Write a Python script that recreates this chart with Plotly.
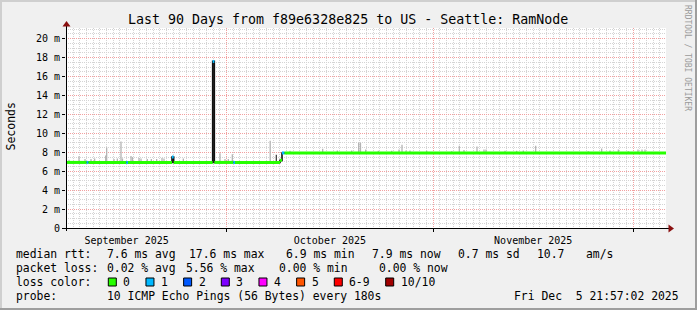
import numpy as np
import plotly.graph_objects as go
from datetime import datetime, timedelta

# ---------------- data ----------------
START = datetime(2025, 9, 6, 21, 57, 2)
SPAN_DAYS = 90

# median rtt (ms) as step breakpoints: day offset from START, value, loss bracket index
med_day = [0.0, 3.1, 3.35, 9.05, 9.3, 15.9, 16.15, 22.0, 22.25, 25.1, 25.35, 32.1, 32.4, 32.75, 90.0]
med_ms = [6.93, 6.93, 6.93, 6.93, 6.93, 7.5, 6.93, 17.6, 6.93, 6.93, 6.93, 7.15, 7.93, 7.93, 7.93]
med_loss = [0, 1, 0, 1, 0, 1, 0, 1, 0, 1, 0, 0, 1, 0, 0]

# smoke spikes (max rtt, ms)
smoke_day = [0.45, 1.95, 2.85, 3.75, 4.3, 5.95, 6.1, 7.2, 7.7, 8.25, 8.47, 9.75, 9.97, 10.95,
             11.25, 12.2, 12.8, 13.6, 14.4, 14.7, 17.6, 23.1, 23.85, 24.35, 24.95, 30.63,
             33.6, 38.5, 40.7, 42.85, 43.9, 44.17, 44.95, 46.85, 48.85, 49.95, 50.4, 51.0,
             51.6, 54.1, 57.85, 59.0, 59.7, 61.65, 62.7, 63.0, 65.85, 67.6, 68.6, 70.45,
             78.35, 80.35, 81.6, 82.85, 84.35, 85.8, 86.4, 86.85]
smoke_top = [7.2, 7.57, 7.3, 7.3, 7.35, 7.67, 8.5, 7.3, 7.35, 9.15, 7.35, 7.6, 7.5, 7.4,
             7.35, 7.3, 7.3, 7.3, 7.4, 7.35, 7.33, 7.9, 7.3, 7.3, 7.8, 9.22,
             8.17, 8.38, 8.2, 8.2, 9.0, 9.0, 8.3, 8.15, 8.15, 8.3, 8.8, 8.2,
             8.2, 8.15, 8.1, 8.7, 8.25, 8.6, 8.3, 8.3, 8.15, 8.15, 8.2, 8.7,
             8.1, 8.4, 8.2, 8.3, 8.1, 8.3, 8.3, 8.3]
dark_smoke_day = [31.55]
dark_smoke_top = [7.75]

loss_labels = ["0", "1", "2", "3", "4", "5", "6-9", "10/10"]
loss_colors = ["#26ff00", "#00b8ff", "#0059ff", "#7e00ff", "#ff00ff", "#ff5500", "#ff0000", "#a10000"]

y_tickvals = [0, 2, 4, 6, 8, 10, 12, 14, 16, 18, 20]
y_ticktext = ["0"] + [f"{v} m" for v in y_tickvals[1:]]

title_text = "Last 90 Days from f89e6328e825 to US - Seattle: RamNode"
rtt_fields = ["median rtt:", "7.6 ms avg", "17.6 ms max", "6.9 ms min", "7.9 ms now", "0.7 ms sd", "10.7", "am/s"]
loss_fields = ["packet loss:", "0.02 % avg", "5.56 % max", "0.00 % min", "0.00 % now"]
probe_fields = ["probe:", "10 ICMP Echo Pings (56 Bytes) every 180s"]
stamp_text = "Fri Dec\u00a0\u00a05 21:57:02 2025"

# ---------------- helpers ----------------
FONT = "DejaVu Sans Mono"
W, H = 697, 310
L, R, T, B = 66, 31, 28, 82
PW, PH = W - L - R, H - T - B


def t(d):
    return (START + timedelta(days=d)).strftime("%Y-%m-%d %H:%M:%S")


def px(x):
    return (x - L) / PW


def py(y):
    return (T + PH - y) / PH


med_day_a = np.array(med_day)


def med_at(d):
    i = int(np.searchsorted(med_day_a, d, side="right")) - 1
    return med_ms[max(i, 0)]


fig = go.Figure()

# smoke
sx, sy = [], []
for d, top in zip(smoke_day, smoke_top):
    sx += [t(d), t(d), None]
    sy += [med_at(d), top, None]
fig.add_trace(go.Scatter(x=sx, y=sy, mode="lines", line=dict(color="#b4b4b4", width=1.3),
                         hoverinfo="skip"))
dx, dy = [], []
for d, top in zip(dark_smoke_day, dark_smoke_top):
    dx += [t(d), t(d), None]
    dy += [med_at(d), top, None]
fig.add_trace(go.Scatter(x=dx, y=dy, mode="lines", line=dict(color="#444444", width=1.3),
                         hoverinfo="skip"))

# median dark line
fig.add_trace(go.Scatter(x=[t(d) for d in med_day], y=med_ms, mode="lines",
                         line=dict(color="#101010", width=1.6, shape="hv"), hoverinfo="skip"))

# loss colored median segments
for li, col in enumerate(loss_colors):
    xs, ys = [], []
    for i in range(len(med_day) - 1):
        if med_loss[i] == li:
            xs += [t(med_day[i]), t(med_day[i + 1]), None]
            ys += [med_ms[i], med_ms[i], None]
    if xs:
        fig.add_trace(go.Scatter(x=xs, y=ys, mode="lines", line=dict(color=col, width=3),
                                 hoverinfo="skip"))

shapes = []
# outer frame shading
shapes += [
    dict(type="rect", xref="paper", yref="paper", x0=px(0), x1=px(W), y0=py(0), y1=py(2),
         fillcolor="#CFCFCF", line=dict(width=0)),
    dict(type="rect", xref="paper", yref="paper", x0=px(0), x1=px(2), y0=py(0), y1=py(H),
         fillcolor="#CFCFCF", line=dict(width=0)),
    dict(type="rect", xref="paper", yref="paper", x0=px(W - 2), x1=px(W), y0=py(0), y1=py(H),
         fillcolor="#9E9E9E", line=dict(width=0)),
    dict(type="rect", xref="paper", yref="paper", x0=px(0), x1=px(W), y0=py(H - 2), y1=py(H),
         fillcolor="#9E9E9E", line=dict(width=0)),
]
# axis lines
shapes += [
    dict(type="line", xref="paper", yref="paper", x0=px(66.5), x1=px(66.5), y0=py(231), y1=py(26),
         line=dict(color="#000000", width=1)),
    dict(type="line", xref="paper", yref="paper", x0=px(62), x1=px(669), y0=py(228.5), y1=py(228.5),
         line=dict(color="#000000", width=1)),
]
# arrows
shapes += [
    dict(type="path", xref="paper", yref="paper",
         path=f"M {px(62.5)} {py(26.5)} L {px(70.5)} {py(26.5)} L {px(66.5)} {py(21)} Z",
         fillcolor="#8a1010", line=dict(color="#8a1010", width=0)),
    dict(type="path", xref="paper", yref="paper",
         path=f"M {px(668.5)} {py(224.5)} L {px(668.5)} {py(232.5)} L {px(674)} {py(228.5)} Z",
         fillcolor="#8a1010", line=dict(color="#8a1010", width=0)),
]

annotations = []


def txt(x, y, s, size=11.4, xanchor="left", color="#000000", angle=0):
    annotations.append(dict(x=px(x), y=py(y), xref="paper", yref="paper", text=s, showarrow=False,
                            xanchor=xanchor, yanchor="middle", textangle=angle,
                            font=dict(family=FONT, size=size, color=color),
                            borderpad=0, borderwidth=0))


txt(347.5, 19, title_text, size=13.3, xanchor="center")
txt(688, 58, "RRDTOOL / TOBI OETIKER", size=8, xanchor="center", color="#9a9a9a", angle=90)
txt(10.5, 127, "Seconds", size=11.5, xanchor="center", angle=-90)

rtt_x = [16, 107.3, 189.3, 286, 372.3, 458.3, 537.3, 586]
for s, x in zip(rtt_fields, rtt_x):
    txt(x, 254, s)
loss_x = [16, 107.3, 186, 279.3, 379.3]
for s, x in zip(loss_fields, loss_x):
    txt(x, 268, s)
txt(16, 282, "loss color:")
pos = 108.3
CW = 6.866
for lab, col in zip(loss_labels, loss_colors):
    shapes.append(dict(type="rect", xref="paper", yref="paper", x0=px(pos), x1=px(pos + 8),
                       y0=py(286), y1=py(278), fillcolor=col, line=dict(color="#000000", width=1)))
    txt(pos + 15, 282, lab)
    pos = pos + 15 + len(lab) * CW + 15.8
probe_x = [16, 107.3]
for s, x in zip(probe_fields, probe_x):
    txt(x, 296, s)
txt(679, 296, stamp_text, xanchor="right")

grid_major = "#F2A0A0"
grid_minor = "#D4D4D4"

fig.update_layout(
    width=W, height=H,
    margin=dict(l=L, r=R, t=T, b=B, pad=0),
    paper_bgcolor="#F0F0F0", plot_bgcolor="#FFFFFF",
    showlegend=False,
    shapes=shapes, annotations=annotations,
    font=dict(family=FONT, color="#000000"),
    xaxis=dict(
        type="date", range=[t(0), t(SPAN_DAYS)],
        tick0="2025-09-01", dtick="M1", tickformat="%B %Y", ticklabelmode="period",
        showgrid=True, gridcolor=grid_major, griddash="1px,1px", gridwidth=1,
        ticks="outside", ticklen=3, tickcolor="#000000",
        showline=False, zeroline=False,
        tickfont=dict(family=FONT, size=10, color="#000000"),
        minor=dict(dtick=86400000, tick0="2025-09-01", showgrid=True, gridcolor=grid_minor,
                   griddash="1px,1px", gridwidth=1, ticks=""),
    ),
    yaxis=dict(
        range=[0, PH / 9.465],
        tickvals=y_tickvals, ticktext=y_ticktext,
        showgrid=True, gridcolor=grid_major, griddash="1px,1px", gridwidth=1,
        ticks="outside", ticklen=3, tickcolor="#000000",
        showline=False, zeroline=False,
        tickfont=dict(family=FONT, size=10, color="#000000"),
        minor=dict(dtick=0.5, tick0=0, showgrid=True, gridcolor=grid_minor,
                   griddash="1px,1px", gridwidth=1, ticks=""),
    ),
)

fig.write_html("out.html")
